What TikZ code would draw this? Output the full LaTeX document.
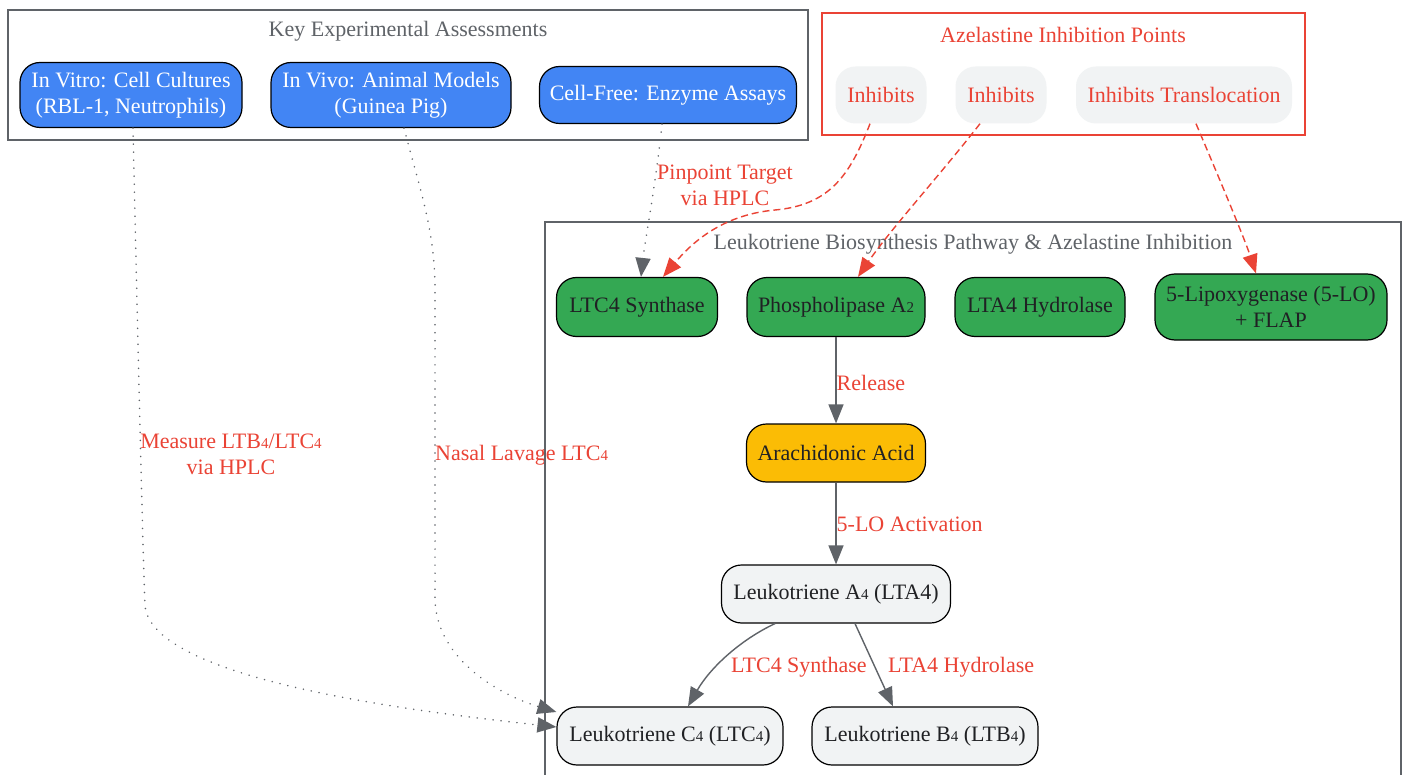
\documentclass[tikz,border=0pt]{standalone}
\usepackage{fontspec}
\setmainfont{Liberation Serif}
\usetikzlibrary{arrows.meta}
\definecolor{gblue}{HTML}{4285F4}
\definecolor{ggreen}{HTML}{34A853}
\definecolor{gyellow}{HTML}{FBBC05}
\definecolor{glight}{HTML}{F1F3F4}
\definecolor{gred}{HTML}{EA4335}
\definecolor{ggray}{HTML}{5F6368}
\definecolor{gdark}{HTML}{202124}
\newcommand\subd[1]{{\fontsize{15}{15}\selectfont #1}}
\begin{document}
\begin{tikzpicture}[x=1pt,y=-1pt,
  every node/.style={font=\fontsize{22}{26}\selectfont},
  box/.style={rounded corners=20pt, draw=black, line width=1.2pt, align=center, inner sep=0pt},
  bluebox/.style={box, fill=gblue, text=white},
  greenbox/.style={box, fill=ggreen, text=gdark},
  yellowbox/.style={box, fill=gyellow, text=gdark},
  greybox/.style={box, fill=glight, text=gdark},
  inhbox/.style={rounded corners=20pt, fill=glight, text=gred, align=center, inner sep=0pt},
  cluster/.style={line width=1.4pt},
  ctitle/.style={inner sep=0pt},
  tip/.style={-{Triangle[length=19pt,width=15pt]}},
  flow/.style={draw=ggray, line width=1.4pt, tip},
  probe/.style={draw=ggray, line width=1.7pt, line cap=round, dash pattern=on 0.01pt off 8pt, -{Triangle[length=19pt,width=15pt,sep=0pt]}},
  inhib/.style={draw=gred, line width=1.4pt, dash pattern=on 7pt off 4pt, tip},
  elabel/.style={text=gred, inner sep=0pt, align=center}
]
\useasboundingbox (0,0) rectangle (1407,775);
\fill[white] (0,0) rectangle (1407,775);

% edge labels (drawn first, cluster borders pass over them)
\node[elabel] (lmeasure) at (231,454) {Measure LTB\subd{4}/LTC\subd{4}\\via HPLC};
\node[elabel, anchor=west] (lnasal) at (435,455) {Nasal Lavage LTC\subd{4}};
\node[elabel, anchor=west] (lpin) at (657,185) {Pinpoint Target\\via HPLC};

% clusters
\draw[cluster, draw=ggray] (8,10) rectangle (808,140);
\node[ctitle, text=ggray] (t1) at (408,31) {Key Experimental Assessments};
\draw[cluster, draw=gred] (822,13) rectangle (1305,135);
\node[ctitle, text=gred] (t2) at (1063,35) {Azelastine Inhibition Points};
\draw[cluster, draw=ggray] (545,222) rectangle (1401,800);
\node[ctitle, text=ggray] (t3) at (973,244) {Leukotriene Biosynthesis Pathway \& Azelastine Inhibition};

% assessment nodes
\node[bluebox, minimum width=222, minimum height=65] (invitro) at (131,95) {In Vitro: Cell Cultures\\(RBL-1, Neutrophils)};
\node[bluebox, minimum width=240, minimum height=65] (invivo) at (391,95) {In Vivo: Animal Models\\(Guinea Pig)};
\node[bluebox, minimum width=257, minimum height=57] (cellfree) at (668,95) {Cell-Free: Enzyme Assays};

% inhibition nodes
\node[inhbox, minimum width=91, minimum height=57] (inh1) at (881,95) {Inhibits};
\node[inhbox, minimum width=91, minimum height=57] (inh2) at (1001,95) {Inhibits};
\node[inhbox, minimum width=216, minimum height=57] (inh3) at (1184,95) {Inhibits Translocation};

% pathway nodes
\node[greenbox, minimum width=161, minimum height=59] (ltcs) at (637,307) {LTC4 Synthase};
\node[greenbox, minimum width=178, minimum height=59] (pla) at (836,307) {Phospholipase A\subd{2}};
\node[greenbox, minimum width=170, minimum height=59] (ltah) at (1040,307) {LTA4 Hydrolase};
\node[greenbox, minimum width=232, minimum height=66] (flo) at (1271,307) {5-Lipoxygenase (5-LO)\\+ FLAP};
\node[yellowbox, minimum width=179, minimum height=58] (aa) at (836,453) {Arachidonic Acid};
\node[greybox, minimum width=229, minimum height=58] (lta) at (836,594) {Leukotriene A\subd{4} (LTA4)};
\node[greybox, minimum width=226, minimum height=58] (ltc) at (670,736) {Leukotriene C\subd{4} (LTC\subd{4})};
\node[greybox, minimum width=226, minimum height=58] (ltb) at (925,736) {Leukotriene B\subd{4} (LTB\subd{4})};

% pathway flow
\draw[flow] (pla) -- node[elabel, anchor=west, pos=0.53] (lrel) {Release} (aa);
\draw[flow] (aa) -- node[elabel, anchor=west, pos=0.51] (lact) {5-LO Activation} (lta);
\draw[flow] ([xshift=-61pt]lta.south) .. controls (740,640) and (710,668) .. ([xshift=18pt]ltc.north);
\node[elabel, anchor=west] (lsyn) at (731,667) {LTC4 Synthase};
\draw[flow] ([xshift=19pt]lta.south) -- ([xshift=-32pt]ltb.north);
\node[elabel, anchor=west] (lhyd) at (888,667) {LTA4 Hydrolase};

% probes (dotted)
\draw[probe] ([xshift=2pt]invitro.south) .. controls (138,350) and (143,560) .. (145,605) .. controls (150,680) and (420,712) .. ([yshift=9pt]ltc.west);
\draw[probe] ([xshift=13pt]invivo.south) .. controls (420,190) and (435,230) .. (435,290) -- (435,600) .. controls (437,660) and (500,695) .. ([yshift=24pt]ltc.west);
\draw[probe] ([xshift=-6pt]cellfree.south) .. controls (655,190) and (645,240) .. ([xshift=4pt]ltcs.north);

% inhibition (dashed)
\draw[inhib] ([xshift=-11pt]inh1.south) .. controls (850,175) and (830,205) .. (775,210) .. controls (720,215) and (690,245) .. ([xshift=26pt]ltcs.north);
\draw[inhib] ([xshift=-21pt]inh2.south) .. controls (940,175) and (890,230) .. ([xshift=22pt]pla.north);
\draw[inhib] ([xshift=12pt]inh3.south) .. controls (1220,180) and (1245,240) .. ([xshift=-15pt]flo.north);
\end{tikzpicture}
\end{document}
